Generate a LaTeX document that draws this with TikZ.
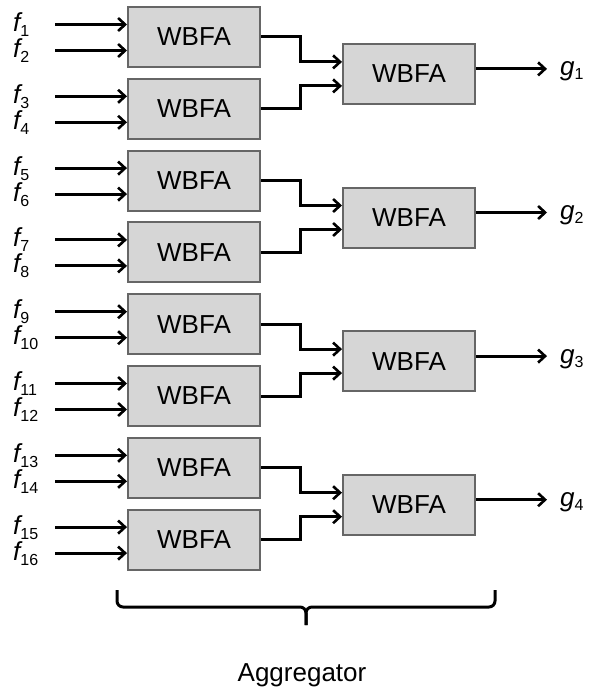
\documentclass[tikz,border=0pt]{standalone}
\usepackage{fontspec}
\setmainfont{Liberation Sans}
\usetikzlibrary{arrows.meta}
\begin{document}
\begin{tikzpicture}[x=1pt,y=-1pt,
  wbfa/.style={draw=black!60,line width=2pt,fill=black!16,minimum width=132pt,minimum height=60pt,inner sep=0pt,font=\fontsize{26}{26}\selectfont},
  arr/.style={line width=3pt,-{Straight Barb[length=7pt,width=13pt,line width=2.6pt]}},
  brace/.style={line width=3pt,rounded corners=6pt},
  lab/.style={anchor=base west,inner sep=0pt,font=\fontsize{26}{26}\selectfont}]
\useasboundingbox (0,0) rectangle (596,693);
\foreach \i in {0,...,7}{
  \pgfmathsetmacro\cy{37+71.8*\i}
  \node[wbfa] (L\i) at (194,\cy) {WBFA\hspace{10pt}};
  \pgfmathtruncatemacro\ja{2*\i+1}
  \pgfmathtruncatemacro\jb{2*\i+2}
  \pgfmathsetmacro\ya{\cy-12.5}
  \pgfmathsetmacro\yb{\cy+13.5}
  \coordinate (s\ja) at (55,\ya);
  \coordinate (s\jb) at (55,\yb);
  \draw[arr] (s\ja) -- (s\ja -| L\i.west);
  \draw[arr] (s\jb) -- (s\jb -| L\i.west);
  \node[lab] (f\ja) at (13,\ya+7) {\itshape f\upshape\raisebox{-5pt}{\fontsize{16}{16}\selectfont\ja}};
  \node[lab] (f\jb) at (13,\yb+7) {\itshape f\upshape\raisebox{-5pt}{\fontsize{16}{16}\selectfont\jb}};
}
\foreach \k in {0,...,3}{
  \pgfmathtruncatemacro\a{2*\k}
  \pgfmathtruncatemacro\b{2*\k+1}
  \pgfmathtruncatemacro\g{\k+1}
  \pgfmathsetmacro\cy{37+71.8*(2*\k+0.5)+1}
  \node[wbfa] (R\k) at (409,\cy) {WBFA\hspace{10pt}};
  \coordinate (ma\k) at (300,\cy-12);
  \coordinate (mb\k) at (300,\cy+12);
  \draw[arr] (L\a.east) -| (ma\k) -- (ma\k -| R\k.west);
  \draw[arr] (L\b.east) -| (mb\k) -- (mb\k -| R\k.west);
  \coordinate (oa\k) at ([yshift=5pt]R\k.east);
  \coordinate (ob\k) at (547,\cy-5);
  \draw[arr] (oa\k) -- (ob\k);
  \node[lab] (g\k) at (560,\cy+2) {\itshape g\upshape\raisebox{-4pt}{\fontsize{16}{16}\selectfont\g}};
}
\coordinate (bl) at (117,590);
\coordinate (br) at (495,590);
\coordinate (bt) at (306,625);
\draw[brace] (bl) -- (117,607) -- (306,607) -- (bt);
\draw[brace] (br) -- (495,607) -- (306,607) -- (bt);
\node[font=\fontsize{26}{26}\selectfont,inner sep=0pt] (agg) at (302,675) {Aggregator};
\end{tikzpicture}
\end{document}
